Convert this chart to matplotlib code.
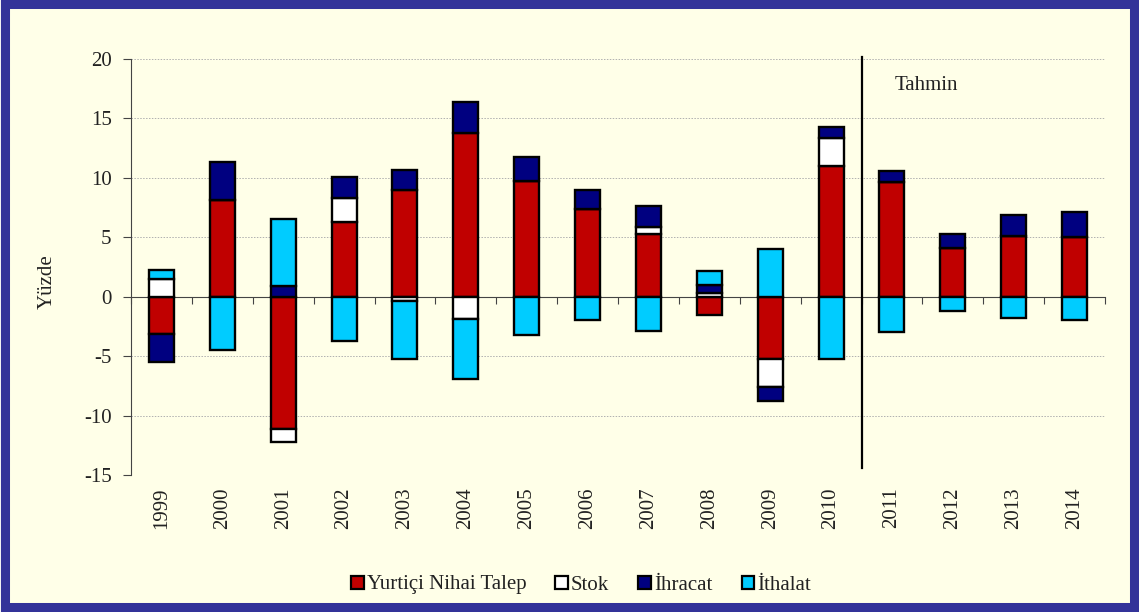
import matplotlib
matplotlib.use("Agg")
import matplotlib.pyplot as plt
import numpy as np
from matplotlib.patches import Rectangle, Patch

years = [str(y) for y in range(1999, 2015)]
series_names = ["Yurtiçi Nihai Talep", "Stok", "İhracat", "İthalat"]
yurtici = [-3.1, 8.1, -11.1, 6.3, 9.0, 13.75, 9.75, 7.35, 5.25, -1.55, -5.2, 11.0, 9.65, 4.1, 5.15, 5.0]
stok = [1.5, 0.0, -1.1, 2.0, -0.35, -1.85, 0.0, 0.0, 0.6, 0.3, -2.4, 2.35, 0.0, 0.0, 0.0, 0.0]
ihracat = [-2.4, 3.25, 0.9, 1.8, 1.65, 2.65, 2.0, 1.6, 1.8, 0.65, -1.2, 0.95, 0.9, 1.15, 1.75, 2.1]
ithalat = [0.75, -4.45, 5.6, -3.75, -4.9, -5.1, -3.25, -2.0, -2.9, 1.2, 4.05, -5.2, -2.95, -1.2, -1.8, -2.0]
colors = ["#C00000", "#FFFFFF", "#000080", "#00CCFF"]

plt.rcParams["font.family"] = ["Liberation Serif", "DejaVu Serif"]
plt.rcParams["axes.unicode_minus"] = False
BG = "#FFFFE8"

fig = plt.figure(figsize=(11.39, 6.12), dpi=100, facecolor="#F4F4F4")
# blue frame with cream inside, kept behind the axes
fig.patches.append(Rectangle((5 / 1139, 1 - 607 / 612), 1129 / 1139, 603 / 612,
                             transform=fig.transFigure, facecolor=BG,
                             edgecolor="#333399", linewidth=6.5, zorder=-10))

ax = fig.add_axes([131 / 1139, 1 - 475 / 612, 974 / 1139, 416 / 612])
ax.patch.set_alpha(0)

x = np.arange(len(years))
pos = np.zeros(len(years))
neg = np.zeros(len(years))
for name, vals, col in zip(series_names, [yurtici, stok, ihracat, ithalat], colors):
    v = np.array(vals)
    base = np.where(v >= 0, pos, neg)
    ax.bar(x, v, 0.41, bottom=base, color=col, edgecolor="black", linewidth=1.7, zorder=3)
    pos = pos + np.where(v >= 0, v, 0)
    neg = neg + np.where(v < 0, v, 0)

ax.set_xlim(-0.5, len(years) - 0.5)
ax.set_ylim(-15, 20)
ax.set_yticks(range(-15, 21, 5))
ax.grid(axis="y", linestyle=(0, (1.5, 1.5)), color="#B0B0B0", linewidth=0.7, zorder=0)
for s in ["top", "right"]:
    ax.spines[s].set_visible(False)
ax.spines["left"].set_color("#444444")
ax.spines["bottom"].set_position(("data", 0))
ax.spines["bottom"].set_color("#444444")
ax.set_xticks(np.arange(-0.5, len(years), 1))
ax.set_xticklabels([])
ax.tick_params(axis="x", direction="out", length=5, color="#444444")
ax.tick_params(axis="y", direction="out", length=6, color="#444444", labelsize=15, pad=8,
               labelcolor="#222222")

sec = ax.secondary_xaxis(0)
sec.set_xticks(x, labels=years, rotation=90)
sec.tick_params(length=0, pad=9, labelsize=15, labelcolor="#222222")
sec.spines["bottom"].set_visible(False)

# forecast separator
ax.plot([11.5, 11.5], [-14.4, 20.2], color="black", linewidth=1.6, clip_on=False, zorder=4)
ax.text(12.57, 17.8, "Tahmin", fontsize=15, ha="center", va="center", color="#222222")

fig.text(47 / 1139, 1 - 282 / 612, "Yüzde", rotation=90, fontsize=15,
         ha="center", va="center", color="#222222")

handles = [Patch(facecolor=c, edgecolor="black", linewidth=1.6) for c in colors]
fig.legend(handles, series_names, loc="center", bbox_to_anchor=(581 / 1139, 1 - 585 / 612),
           ncol=4, frameon=False, fontsize=15, handlelength=0.6, handleheight=0.6,
           handletextpad=0.15, columnspacing=1.4, labelcolor="#222222")

fig.savefig("out.png", dpi=100, facecolor=fig.get_facecolor())
